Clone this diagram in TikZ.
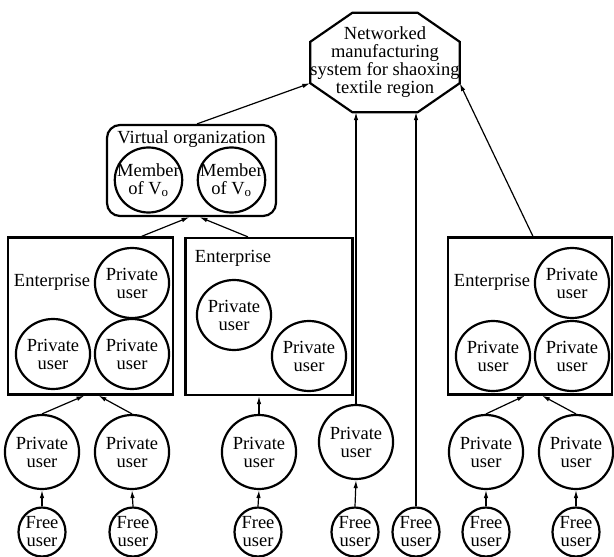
\documentclass[tikz,border=0pt]{standalone}
\usepackage{fontspec}
\setmainfont{Liberation Serif}
\usetikzlibrary{shapes.geometric, arrows.meta, calc}
\tikzset{
  nmsys/.style   = {rectangle, align=center, inner sep=0pt,
                    minimum width=144pt, minimum height=99pt},
  nmline/.style  = {draw=black, line width=2.2pt, line join=miter},
  vobox/.style   = {rectangle, rounded corners=13pt, nmline,
                    minimum width=169pt, minimum height=91pt},
  entbox/.style  = {rectangle, nmline, minimum width=165pt,
                    minimum height=157pt},
  puser/.style   = {ellipse, nmline, align=center, inner sep=0pt,
                    minimum width=72pt, minimum height=70pt},
  quser/.style   = {puser, minimum width=73pt, minimum height=74pt},
  fuser/.style   = {puser, minimum width=47pt, minimum height=49pt},
  vmember/.style = {puser, inner xsep=-7.5pt, inner ysep=4pt,
                    minimum width=67pt, minimum height=65pt},
  nmlab/.style   = {inner sep=0pt},
  nmarrow/.style = {-{Latex[length=8pt,width=4.5pt]}, draw=black,
                    line width=1.2pt},
}

\begin{document}
\begin{tikzpicture}[x=1pt, y=-1pt, font=\fontsize{18.5}{18}\selectfont]
  \useasboundingbox (0,0) rectangle (614,557);
  % top level system
  \node[nmsys] (sys) at (385,62.5)
    {Networked\\manufacturing\\system for shaoxing\\textile region};
  \draw[nmline] ([xshift=42pt]sys.north west) -- ([xshift=-42pt]sys.north east)
    -- ([yshift=-29pt]sys.north east) -- ([yshift=29pt]sys.south east)
    -- ([xshift=-42pt]sys.south east) -- ([xshift=42pt]sys.south west)
    -- ([yshift=29pt]sys.south west) -- ([yshift=-29pt]sys.north west) -- cycle;

  % virtual organization
  \node[vobox] (vo) at (191.5,170.5) {};
  \node[nmlab] (votxt) at (191.5,139) {Virtual organization};
  \node[vmember] (m1) at (148.5,180) {Member\\of V\textsubscript{o}};
  \node[vmember] (m2) at (231.5,180) {Member\\of V\textsubscript{o}};

  % enterprises
  \node[entbox] (e1) at (90.5,316) {};
  \node[nmlab] (e1txt) at (52,282) {Enterprise};
  \node[puser] (p11) at (132,283) {Private\\user};
  \node[puser] (p12) at (53,354) {Private\\user};
  \node[puser] (p13) at (132,354) {Private\\user};

  \node[entbox, minimum width=167pt] (e2) at (269,316.5) {};
  \node[nmlab] (e2txt) at (233,258) {Enterprise};
  \node[puser] (p21) at (234,315) {Private\\user};
  \node[puser] (p22) at (309,356) {Private\\user};

  \node[entbox, minimum width=164pt] (e3) at (530,316) {};
  \node[nmlab] (e3txt) at (492,282) {Enterprise};
  \node[puser] (p31) at (572,283) {Private\\user};
  \node[puser] (p32) at (493,356) {Private\\user};
  \node[puser] (p33) at (572,356) {Private\\user};

  % private users
  \node[quser] (q1) at (42,452)  {Private\\user};
  \node[quser] (q2) at (132,452) {Private\\user};
  \node[quser] (q3) at (259,452) {Private\\user};
  \node[quser] (q4) at (356,442) {Private\\user};
  \node[quser] (q5) at (486,452) {Private\\user};
  \node[quser] (q6) at (576,452) {Private\\user};

  % free users
  \node[fuser] (f1) at (42,532)  {Free\\user};
  \node[fuser] (f2) at (133,532) {Free\\user};
  \node[fuser] (f3) at (258,532) {Free\\user};
  \node[fuser] (f4) at (355,532) {Free\\user};
  \node[fuser] (f5) at (416,532) {Free\\user};
  \node[fuser] (f6) at (486,532) {Free\\user};
  \node[fuser] (f7) at (576,532) {Free\\user};

  \draw[nmarrow] (f1.north) -- (q1.south);
  \draw[nmarrow] (f2.north) -- (q2.south);
  \draw[nmarrow] (f3.north) -- (q3.south);
  \draw[nmarrow] (f4.north) -- (q4.south);
  \draw[nmarrow] (f6.north) -- (q5.south);
  \draw[nmarrow] (f7.north) -- (q6.south);
  \draw[nmarrow] (q1.north) -- ([xshift=-6pt]e1.south);
  \draw[nmarrow] (q2.north) -- ([xshift=8pt]e1.south);
  \draw[nmarrow] (q3.north) -- (q3.north |- e2.south);
  \draw[nmarrow] (q5.north) -- ([xshift=-5pt]e3.south);
  \draw[nmarrow] (q6.north) -- ([xshift=12pt]e3.south);
  \draw[nmarrow] (q4.north) -- (q4.north |- sys.south);
  \draw[nmarrow] (f5.north) -- (f5.north |- sys.south);
  \draw[nmarrow] ([xshift=51pt]e1.north) -- ([xshift=-2pt]vo.south);
  \draw[nmarrow] ([xshift=-21pt]e2.north) -- ([xshift=8pt]vo.south);
  \draw[nmarrow] ([xshift=5.5pt]vo.north) -- ([yshift=29pt]sys.south west);
  \draw[nmarrow] ([xshift=3pt]e3.north) -- ([yshift=29pt]sys.south east);
\end{tikzpicture}
\end{document}
